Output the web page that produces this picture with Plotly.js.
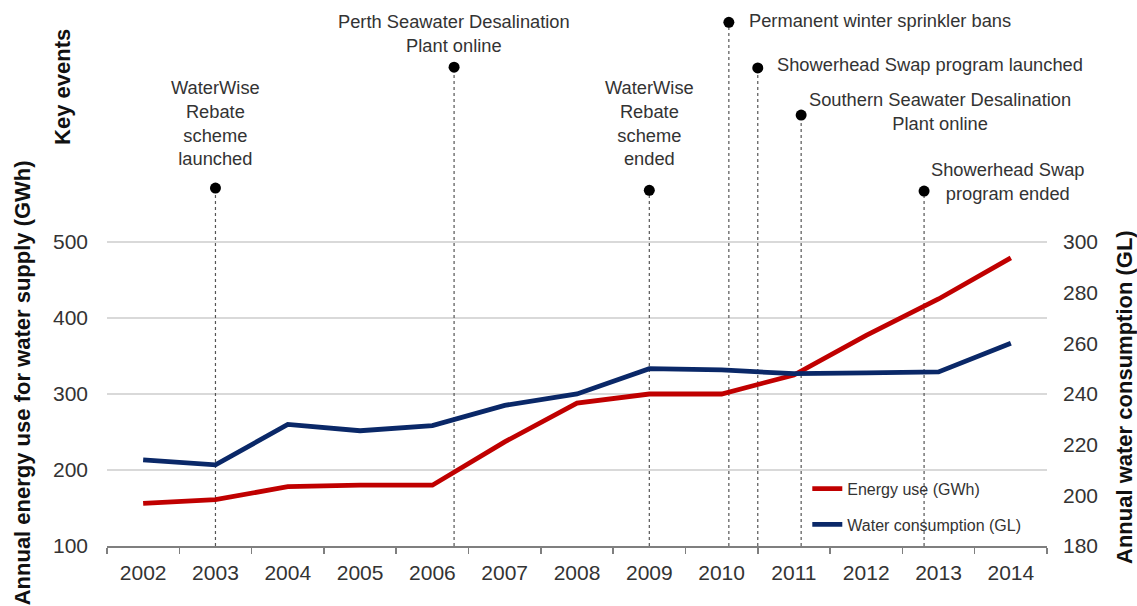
<!DOCTYPE html>
<html>
<head>
<meta charset="utf-8">
<script src="https://cdn.plot.ly/plotly-3.0.1.min.js"></script>
<style>
  html, body { margin: 0; padding: 0; background: #fff; }
  #chart { width: 1137px; height: 606px; }
</style>
</head>
<body>
<div id="chart"></div>
<script>
// Annual series
const years = [2002, 2003, 2004, 2005, 2006, 2007, 2008, 2009, 2010, 2011, 2012, 2013, 2014];
const energyGWh = [156, 161, 178, 180, 180, 237, 288, 300, 300, 325, 377, 425, 479];
const waterGL = [214, 212, 228, 225.5, 227.5, 235.5, 240, 250, 249.5, 248, 248.3, 248.7, 260];

// Key events: when they happened and how high their marker sits (GWh scale)
const eventYears = [2003.0, 2006.3, 2009.0, 2010.1, 2010.5, 2011.1, 2012.8];
const eventLevels = [571, 730, 568, 789, 729, 667, 567];
const eventLabels = [
  "WaterWise<br>Rebate<br>scheme<br>launched",
  "Perth Seawater Desalination<br>Plant online",
  "WaterWise<br>Rebate<br>scheme<br>ended",
  "Permanent winter sprinkler bans",
  "Showerhead Swap program launched",
  "Southern Seawater Desalination<br>Plant online",
  "Showerhead Swap<br>program ended"
];

const leftTicks = [100, 200, 300, 400, 500];
const rightTicks = [180, 200, 220, 240, 260, 280, 300];

// Label placement for each event: [x, y, xanchor]
const labelPlacement = [
  [2003.0, 657, "center"],
  [2006.3, 774, "center"],
  [2009.0, 657, "center"],
  [2010.35, 792, "left"],
  [2010.74, 733, "left"],
  [2013.02, 672, "center"],
  [2013.95, 580, "center"]
];

const FONT = "Arial, 'Liberation Sans', sans-serif";
const RED = "#c00000";
const NAVY = "#0a2868";

// dotted drop lines from each event marker to the axis
const dropX = [], dropY = [];
eventYears.forEach((x, i) => {
  dropX.push(x, x, null);
  dropY.push(leftTicks[0], eventLevels[i], null);
});

const traces = [
  {
    x: dropX, y: dropY, type: "scatter", mode: "lines",
    line: { color: "#555555", width: 1.2, dash: "dot" },
    showlegend: false, hoverinfo: "skip"
  },
  {
    x: eventYears, y: eventLevels, type: "scatter", mode: "markers",
    marker: { color: "#000000", size: 11 },
    showlegend: false, cliponaxis: false
  },
  {
    x: years, y: energyGWh, type: "scatter", mode: "lines",
    name: "Energy use (GWh)", legendgroup: "e",
    line: { color: RED, width: 4.8 }
  },
  {
    x: years, y: waterGL, type: "scatter", mode: "lines", yaxis: "y2",
    name: "Water consumption (GL)", legendgroup: "w",
    line: { color: NAVY, width: 4.8 }
  }
];

const boundaries = years.map(y => y - 0.5).concat([years[years.length - 1] + 0.5]);

const annotations = eventLabels.map((t, i) => ({
  text: t, x: labelPlacement[i][0], y: labelPlacement[i][1],
  xref: "x", yref: "y", xanchor: labelPlacement[i][2], yanchor: "middle",
  align: "center", showarrow: false,
  font: { family: FONT, size: 18.3, color: "#333333" }
}));

annotations.push(
  {
    text: "Annual energy use for water supply (GWh)", textangle: -90,
    xref: "paper", yref: "paper", x: -0.0904, y: 0.298,
    xanchor: "center", yanchor: "middle", showarrow: false,
    font: { family: FONT, size: 22, color: "#111111", weight: "bold" }
  },
  {
    text: "Key events", textangle: -90,
    xref: "paper", yref: "paper", x: -0.0468, y: 0.8407,
    xanchor: "center", yanchor: "middle", showarrow: false,
    font: { family: FONT, size: 22, color: "#111111", weight: "bold" }
  },
  {
    text: "Annual water consumption (GL)", textangle: -90,
    xref: "paper", yref: "paper", x: 1.083, y: 0.273,
    xanchor: "center", yanchor: "middle", showarrow: false,
    font: { family: FONT, size: 22, color: "#111111", weight: "bold" }
  }
);

const layout = {
  width: 1137, height: 606,
  margin: { l: 107, r: 90, t: 0, b: 60 },
  paper_bgcolor: "#ffffff", plot_bgcolor: "#ffffff",
  font: { family: FONT, color: "#333333" },
  showlegend: true,
  legend: {
    x: 0.745, y: 0.136, xanchor: "left", yanchor: "top",
    bgcolor: "rgba(0,0,0,0)", tracegroupgap: 12,
    font: { family: FONT, size: 16, color: "#333333" }
  },
  xaxis: {
    range: [2001.5, 2014.5], tickmode: "array", tickvals: years,
    ticktext: years.map(String), ticks: "", showgrid: false, zeroline: false,
    showline: true, linecolor: "#7f7f7f", linewidth: 1.5,
    tickfont: { family: FONT, size: 21, color: "#333333" },
    ticklabelstandoff: 7,
    minor: { tickmode: "array", tickvals: boundaries, ticks: "outside",
             ticklen: 6, tickwidth: 1.5, tickcolor: "#7f7f7f", showgrid: false }
  },
  yaxis: {
    range: [100, 818.4], tickmode: "array", tickvals: leftTicks,
    showgrid: true, gridcolor: "#d9d9d9", gridwidth: 1.2,
    zeroline: false, showline: false, ticks: "",
    tickfont: { family: FONT, size: 21, color: "#333333" },
    ticklabelstandoff: 18
  },
  yaxis2: {
    range: [180, 395.5], overlaying: "y", side: "right",
    tickmode: "array", tickvals: rightTicks,
    showgrid: false, zeroline: false, showline: false, ticks: "",
    tickfont: { family: FONT, size: 21, color: "#333333" },
    ticklabelstandoff: 15
  },
  annotations: annotations
};

Plotly.newPlot("chart", traces, layout, { staticPlot: true, displayModeBar: false });
</script>
</body>
</html>
